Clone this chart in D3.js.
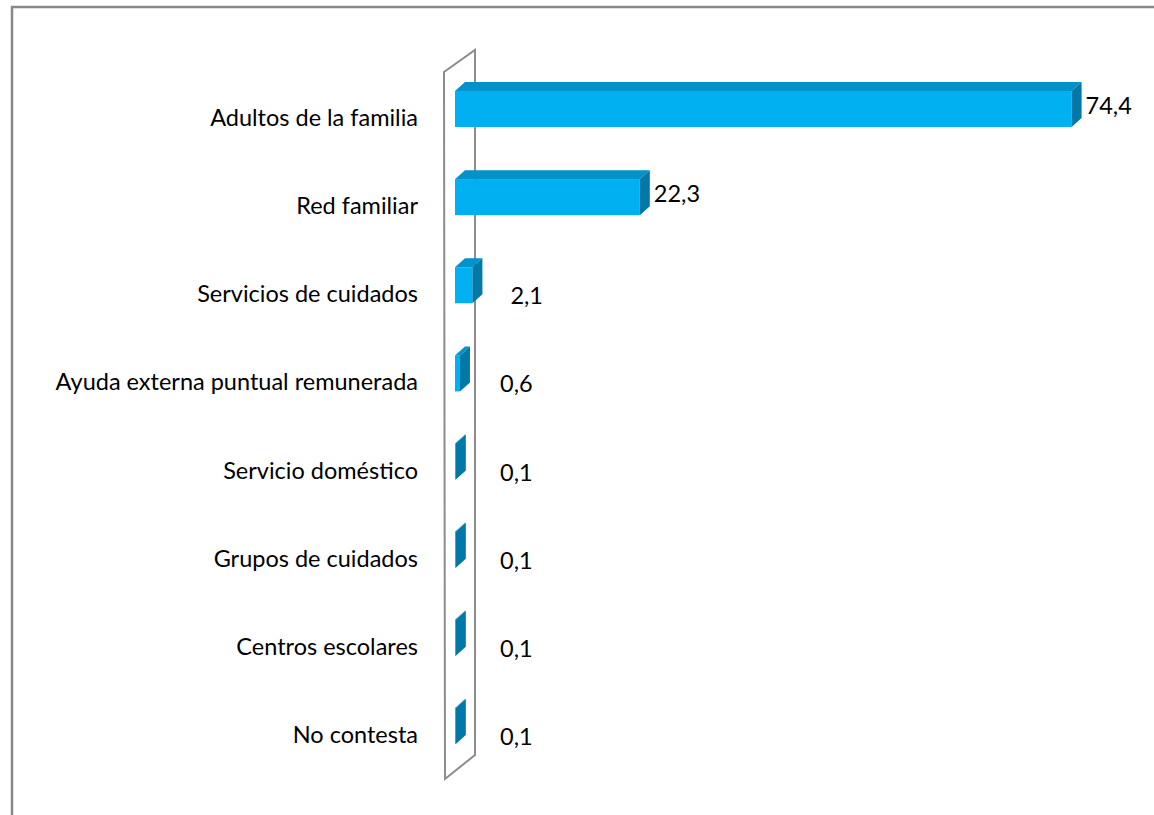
<!DOCTYPE html>
<html>
<head>
<meta charset="utf-8">
<script src="https://cdn.jsdelivr.net/npm/d3@7/dist/d3.min.js"></script>
<style>
  html, body { margin: 0; padding: 0; background: #fff; }
  svg { display: block; }
</style>
</head>
<body>
<svg id="chart" width="1154" height="815"></svg>
<script>
const categories = [
  "Adultos de la familia",
  "Red familiar ",
  "Servicios de cuidados",
  "Ayuda externa puntual remunerada",
  "Servicio doméstico",
  "Grupos de cuidados",
  "Centros escolares",
  "No contesta"
];
const values = [74.4, 22.3, 2.1, 0.6, 0.1, 0.1, 0.1, 0.1];
const valueLabels = ["74,4", "22,3", "2,1", "0,6", "0,1", "0,1", "0,1", "0,1"];

const svg = d3.select("#chart");
const W = 1154, H = 815;
const FONT = "Lato, 'Open Sans', sans-serif";
const FS = 23.5;

// outer border
svg.append("rect")
  .attr("x", 12).attr("y", 7)
  .attr("width", W + 20).attr("height", H + 20)
  .attr("fill", "#fff").attr("stroke", "#888").attr("stroke-width", 2.5);

const x = d3.scaleLinear().domain([0, 80]).range([455, 455 + 663]);
const y = d3.scalePoint().domain(categories).range([117, 734]);

const DX = 10, DY = -9;      // depth offset
const TOP = 26, BOT = 10;    // front face extents relative to band center

// 3D wall (back plane)
const wall = [[444, 72], [475, 50], [475, 755], [445, 779]];
svg.append("path")
  .attr("d", d3.line()(wall) + "Z")
  .attr("fill", "#fff").attr("stroke", "#8c8c8c").attr("stroke-width", 2);

const g = svg.append("g");
const data = categories.map((c, i) => ({ c, v: values[i], lab: valueLabels[i] }));

data.forEach(d => {
  const cy = y(d.c);
  const x0 = x(0), x1 = x(d.v);
  const t = cy - TOP, b = cy + BOT;
  g.append("rect")
    .attr("x", x0).attr("y", t)
    .attr("width", Math.max(0, x1 - x0)).attr("height", b - t)
    .attr("fill", "#00b0f0");
  g.append("path")
    .attr("d", d3.line()([[x0, t], [x0 + DX, t + DY], [x1 + DX, t + DY], [x1, t]]) + "Z")
    .attr("fill", "#0092c8");
  g.append("path")
    .attr("d", d3.line()([[x1, t], [x1 + DX, t + DY], [x1 + DX, b + DY], [x1, b]]) + "Z")
    .attr("fill", "#0078a8");
  const big = d.v > 10;
  g.append("text")
    .attr("x", big ? x1 + DX + 4 : Math.max(x1 + DX + 28, 500))
    .attr("y", big ? cy - 12 : cy + 2)
    .attr("dominant-baseline", "central")
    .attr("font-family", FONT).attr("font-size", FS).attr("fill", "#000")
    .text(d.lab);
});

// category labels
svg.append("g").selectAll("text").data(categories).join("text")
  .attr("x", 418).attr("y", d => y(d))
  .attr("text-anchor", "end").attr("dominant-baseline", "central")
  .attr("font-family", FONT).attr("font-size", FS).attr("fill", "#000")
  .text(d => d);
</script>
</body>
</html>
